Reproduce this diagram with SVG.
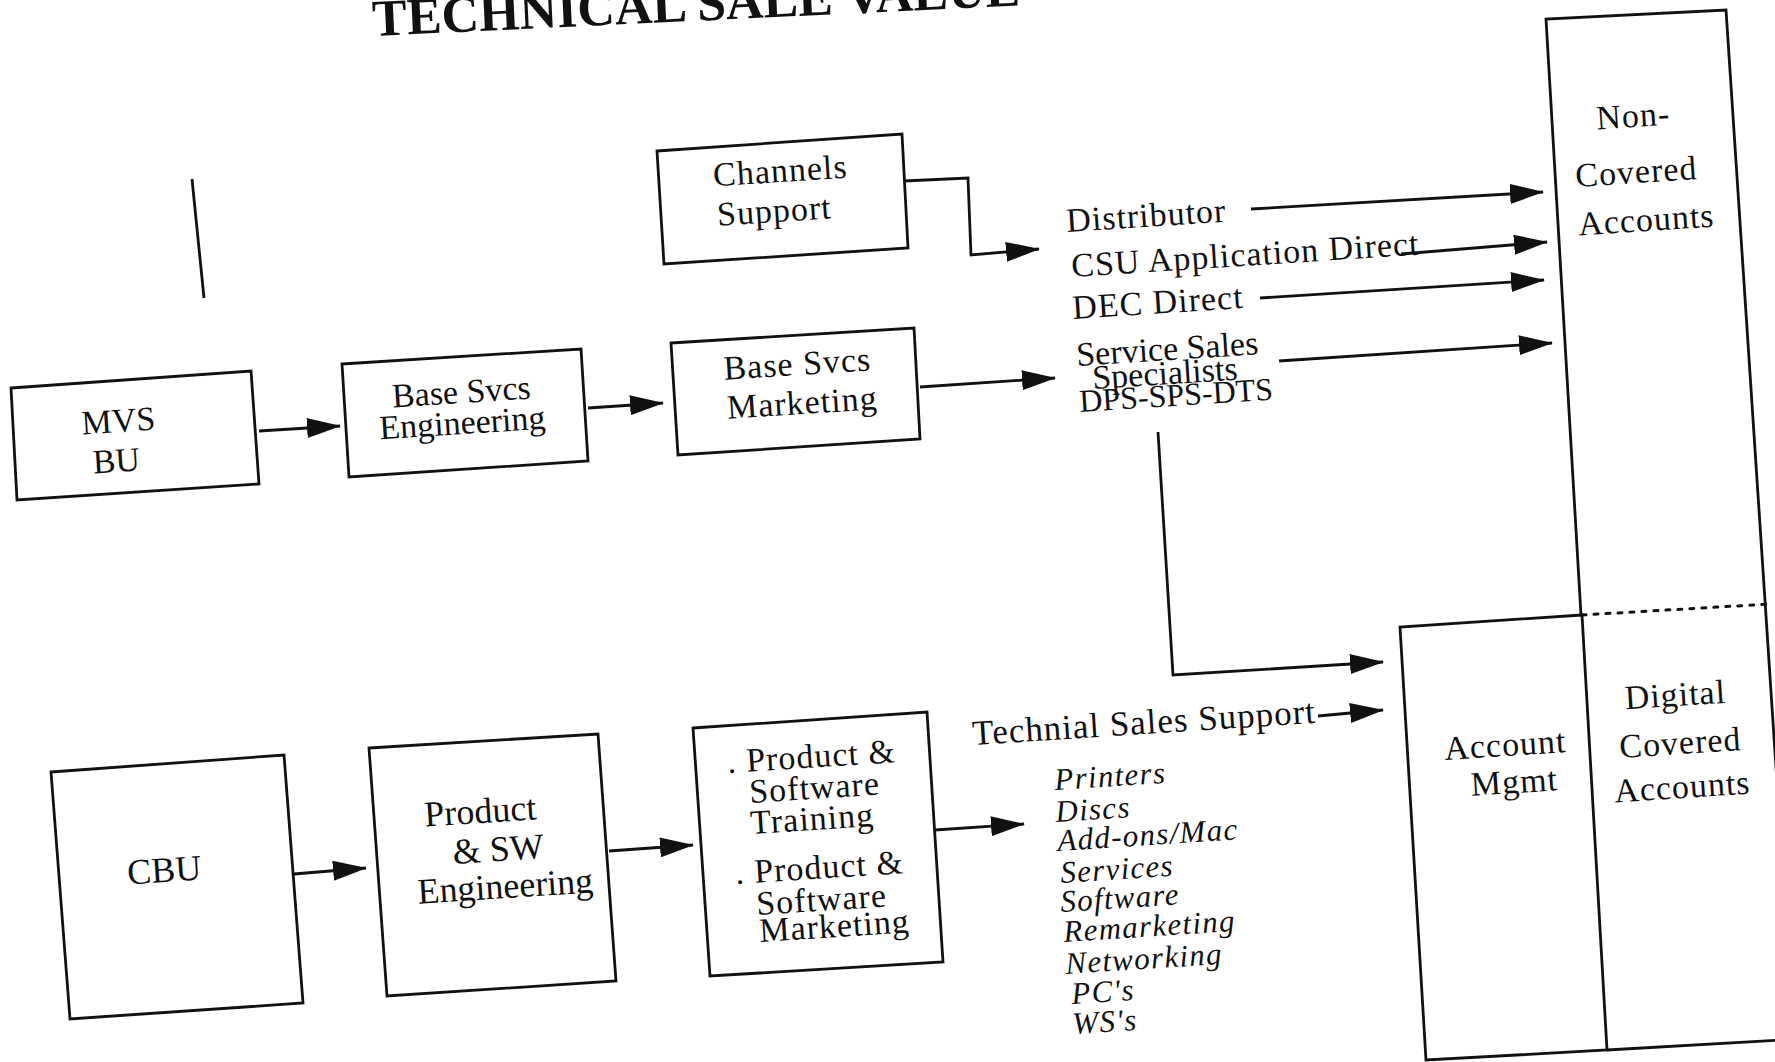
<svg xmlns="http://www.w3.org/2000/svg" width="1775" height="1062" viewBox="0 0 1775 1062">
  <style>
    .box { fill: none; stroke: #111; stroke-width: 2.8; stroke-linejoin: miter; }
    .edge { fill: none; stroke: #111; stroke-width: 2.8; }
    .lbl { font-family: "Liberation Serif", "Times New Roman", serif; font-size: 34px; fill: #111; }
    .big { font-size: 36px; }
    .mid { text-anchor: middle; }
    .wide { letter-spacing: 1px; }
    .ital { font-family: "Liberation Serif", "Times New Roman", serif; font-style: italic; font-size: 31px; letter-spacing: 1.3px; fill: #111; }
    .title { font-family: "Liberation Serif", "Times New Roman", serif; font-weight: bold; font-size: 52px; fill: #111; }
  </style>
  <defs>
    <marker id="arrow" markerUnits="userSpaceOnUse" markerWidth="34" markerHeight="20" viewBox="0 0 34 20" refX="33" refY="10" orient="auto">
      <path d="M0,0 L34,10 L0,20 Z" fill="#111"/>
    </marker>
  </defs>

  <rect width="1775" height="1062" fill="#fff"/>

  <!-- heading, runs off the top edge -->
  <text class="title" x="373" y="36" transform="rotate(-2.7 373 36)">TECHNICAL SALE VALUE</text>

  <!-- short stray rule at upper left -->
  <path class="edge" d="M192,179 L204,298"/>

  <!-- upper chain -->
  <g id="mvs-bu">
    <path class="box" d="M11,388 L251,371 L259,484 L17,500 Z"/>
    <text class="lbl mid" x="119" y="432" transform="rotate(-3.7 119 432)">MVS</text>
    <text class="lbl mid" x="117" y="472" transform="rotate(-3.7 117 472)">BU</text>
  </g>

  <g id="base-svcs-engineering">
    <path class="box" d="M342,364 L581,349 L588,461 L349,477 Z"/>
    <text class="lbl mid" x="462" y="403" transform="rotate(-3.7 462 403)">Base Svcs</text>
    <text class="lbl mid" x="463" y="434" transform="rotate(-3.7 463 434)">Engineering</text>
  </g>

  <g id="base-svcs-marketing">
    <path class="box" d="M671,343 L914,328 L920,439 L678,455 Z"/>
    <text class="lbl mid wide" x="798" y="375" transform="rotate(-3.7 798 375)">Base Svcs</text>
    <text class="lbl mid wide" x="803" y="414" transform="rotate(-3.7 803 414)">Marketing</text>
  </g>

  <g id="channels-support">
    <path class="box" d="M657,151 L902,134 L908,248 L664,264 Z"/>
    <text class="lbl mid wide" x="781" y="182" transform="rotate(-3.7 781 182)">Channels</text>
    <text class="lbl mid wide" x="775" y="222" transform="rotate(-3.7 775 222)">Support</text>
  </g>

  <!-- sales channels list -->
  <g id="channels-list">
    <text class="lbl wide" x="1067" y="232" transform="rotate(-3.7 1067 232)">Distributor</text>
    <text class="lbl wide" x="1072" y="277" transform="rotate(-3.7 1072 277)">CSU Application Direct</text>
    <text class="lbl wide" x="1073" y="319" transform="rotate(-3.7 1073 319)">DEC Direct</text>
    <text class="lbl" x="1077" y="366" transform="rotate(-3.7 1077 366)">Service Sales</text>
    <text class="lbl" x="1093" y="389" transform="rotate(-3.7 1093 389)">Specialists</text>
    <text class="lbl" x="1080" y="412" transform="rotate(-3.7 1080 412)" style="font-size:32px">DPS-SPS-DTS</text>
  </g>

  <!-- lower chain -->
  <g id="cbu">
    <path class="box" d="M51,772 L284,755 L303,1003 L70,1019 Z"/>
    <text class="lbl big mid" x="165" y="882" transform="rotate(-3.7 165 882)">CBU</text>
  </g>

  <g id="product-sw-engineering">
    <path class="box" d="M369,748 L598,734 L616,981 L387,996 Z"/>
    <text class="lbl big mid" x="481" y="823" transform="rotate(-3.7 481 823)">Product</text>
    <text class="lbl big mid" x="499" y="861" transform="rotate(-3.7 499 861)">&amp; SW</text>
    <text class="lbl big mid" x="506" y="898" transform="rotate(-3.7 506 898)">Engineering</text>
  </g>

  <g id="product-training-marketing">
    <path class="box" d="M693,728 L927,712 L943,962 L710,976 Z"/>
    <text class="lbl wide" x="728" y="773" transform="rotate(-3.7 728 773)">. Product &amp;</text>
    <text class="lbl wide" x="750" y="803" transform="rotate(-3.7 750 803)">Software</text>
    <text class="lbl wide" x="751" y="834" transform="rotate(-3.7 751 834)">Training</text>
    <text class="lbl wide" x="736" y="884" transform="rotate(-3.7 736 884)">. Product &amp;</text>
    <text class="lbl wide" x="757" y="915" transform="rotate(-3.7 757 915)">Software</text>
    <text class="lbl wide" x="760" y="942" transform="rotate(-3.7 760 942)">Marketing</text>
  </g>

  <text id="technical-sales-support" class="lbl wide" x="973" y="745" transform="rotate(-3.7 973 745)" style="font-size:35px">Technial Sales Support</text>

  <g id="product-lines">
    <text class="ital" x="1055" y="790" transform="rotate(-3.7 1055 790)">Printers</text>
    <text class="ital" x="1056" y="822" transform="rotate(-3.7 1056 822)">Discs</text>
    <text class="ital" x="1058" y="851" transform="rotate(-3.7 1058 851)">Add-ons/Mac</text>
    <text class="ital" x="1061" y="883" transform="rotate(-3.7 1061 883)">Services</text>
    <text class="ital" x="1061" y="912" transform="rotate(-3.7 1061 912)">Software</text>
    <text class="ital" x="1064" y="942" transform="rotate(-3.7 1064 942)">Remarketing</text>
    <text class="ital" x="1066" y="974" transform="rotate(-3.7 1066 974)">Networking</text>
    <text class="ital" x="1072" y="1004" transform="rotate(-3.7 1072 1004)">PC's</text>
    <text class="ital" x="1073" y="1034" transform="rotate(-3.7 1073 1034)">WS's</text>
  </g>

  <!-- account columns on the right -->
  <g id="non-covered-accounts">
    <path class="box" d="M1581,615 L1546,19 L1726,10 L1794,1040"/>
    <text class="lbl mid wide" x="1634" y="127" transform="rotate(-3.7 1634 127)">Non-</text>
    <text class="lbl mid wide" x="1637" y="183" transform="rotate(-3.7 1637 183)">Covered</text>
    <text class="lbl mid wide" x="1647" y="231" transform="rotate(-3.7 1647 231)">Accounts</text>
  </g>

  <g id="account-mgmt">
    <path class="box" d="M1582,615 L1400,627 L1426,1060 L1607,1050 Z"/>
    <text class="lbl mid wide" x="1506" y="756" transform="rotate(-3.7 1506 756)">Account</text>
    <text class="lbl mid wide" x="1515" y="793" transform="rotate(-3.7 1515 793)">Mgmt</text>
  </g>

  <g id="digital-covered-accounts">
    <path class="box" d="M1607,1050 L1800,1039"/>
    <path d="M1582,615 L1770,604" fill="none" stroke="#111" stroke-width="3" stroke-dasharray="4 8" stroke-linecap="round"/>
    <text class="lbl mid wide" x="1676" y="706" transform="rotate(-3.7 1676 706)">Digital</text>
    <text class="lbl mid wide" x="1681" y="754" transform="rotate(-3.7 1681 754)">Covered</text>
    <text class="lbl mid wide" x="1683" y="798" transform="rotate(-3.7 1683 798)">Accounts</text>
  </g>

  <!-- connectors -->
  <g id="connectors">
    <path class="edge" marker-end="url(#arrow)" d="M259,431 L340,426"/>
    <path class="edge" marker-end="url(#arrow)" d="M588,408 L663,403"/>
    <path class="edge" marker-end="url(#arrow)" d="M920,387 L1055,378"/>
    <path class="edge" marker-end="url(#arrow)" d="M904,181 L968,178 L971,255 L1039,249"/>
    <path class="edge" marker-end="url(#arrow)" d="M1251,209 L1543,192"/>
    <path class="edge" marker-end="url(#arrow)" d="M1401,254 L1547,242"/>
    <path class="edge" marker-end="url(#arrow)" d="M1260,298 L1544,280"/>
    <path class="edge" marker-end="url(#arrow)" d="M1279,361 L1552,343"/>
    <path class="edge" marker-end="url(#arrow)" d="M1158,432 L1173,675 L1383,662"/>
    <path class="edge" marker-end="url(#arrow)" d="M1318,716 L1383,710"/>
    <path class="edge" marker-end="url(#arrow)" d="M294,874 L366,868"/>
    <path class="edge" marker-end="url(#arrow)" d="M609,851 L693,845"/>
    <path class="edge" marker-end="url(#arrow)" d="M935,830 L1024,824"/>
  </g>
</svg>
